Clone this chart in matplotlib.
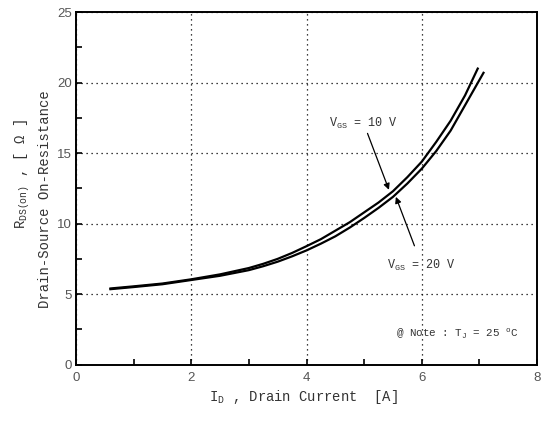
"""
On-resistance vs drain current chart (R_DS(on) for two gate voltages).
Writes out.png.
"""
import matplotlib
matplotlib.use("Agg")
import matplotlib.pyplot as plt
from matplotlib.ticker import MultipleLocator

# --- data ---
id_10v = [0.6, 1.0, 1.5, 2.0, 2.5, 3.0, 3.25, 3.5, 3.75, 4.0, 4.25, 4.5, 4.75,
          5.0, 5.25, 5.5, 5.75, 6.0, 6.25, 6.5, 6.75, 6.97]
rds_10v = [5.4, 5.55, 5.75, 6.05, 6.4, 6.85, 7.15, 7.5, 7.92, 8.4, 8.9, 9.5, 10.1,
           10.8, 11.5, 12.3, 13.3, 14.4, 15.8, 17.3, 19.1, 21.0]
id_20v = [0.6, 1.0, 1.5, 2.0, 2.5, 3.0, 3.25, 3.5, 3.75, 4.0, 4.25, 4.5, 4.75,
          5.0, 5.25, 5.5, 5.75, 6.0, 6.25, 6.5, 6.75, 7.07]
rds_20v = [5.35, 5.5, 5.7, 6.0, 6.3, 6.7, 6.98, 7.3, 7.68, 8.1, 8.58, 9.1, 9.72,
           10.4, 11.12, 11.9, 12.85, 13.9, 15.15, 16.6, 18.4, 20.7]

x_ticks = [0, 2, 4, 6, 8]
y_ticks = [0, 5, 10, 15, 20, 25]

MONO = "Liberation Mono"
SANS = "Liberation Sans"
TXT = "#333333"

plt.rcParams.update({
    "mathtext.fontset": "custom",
    "mathtext.rm": MONO,
    "mathtext.it": MONO,
    "xtick.direction": "in",
    "ytick.direction": "in",
})

fig = plt.figure(figsize=(5.42, 4.21), dpi=100)
ax = fig.add_axes([0.140, 0.134, 0.851, 0.837])

ax.plot(id_10v, rds_10v, color="black", lw=1.6)
ax.plot(id_20v, rds_20v, color="black", lw=1.6)

ax.set_xlim(0, 8)
ax.set_ylim(0, 25)
ax.set_xticks(x_ticks)
ax.set_yticks(y_ticks)
ax.xaxis.set_minor_locator(MultipleLocator(1))
ax.yaxis.set_minor_locator(MultipleLocator(2.5))
ax.tick_params(which="both", length=4, width=1.2, color="black",
               labelsize=9.5, labelcolor="#555555")
ax.tick_params(axis="x", pad=5)
ax.tick_params(axis="y", pad=3)
for lab in ax.get_xticklabels() + ax.get_yticklabels():
    lab.set_fontfamily(SANS)

ax.grid(True, which="major", color="black", ls=(0, (1, 3)), lw=0.9)
for s in ax.spines.values():
    s.set_linewidth(1.4)

# annotations
ax.annotate(r"$\mathregular{V_{GS}}$ = 10 V", xy=(5.43, 12.4), xytext=(4.99, 16.6),
            ha="center", va="bottom", fontsize=8.5, family=MONO, color=TXT,
            arrowprops=dict(arrowstyle="-|>", color="black", lw=0.9,
                            mutation_scale=9, shrinkA=0, shrinkB=0))
ax.annotate(r"$\mathregular{V_{GS}}$ = 20 V", xy=(5.55, 11.9), xytext=(6.0, 7.05),
            ha="center", va="center", fontsize=8.5, family=MONO, color=TXT,
            arrowprops=dict(arrowstyle="-|>", color="black", lw=0.9,
                            mutation_scale=9, shrinkA=7, shrinkB=0))
ax.text(5.55, 2.16, r"@ Note : $\mathregular{T_J}$ = 25 $\mathregular{^o}$C",
        ha="left", va="center", fontsize=7.8, family=MONO, color=TXT)

# axis labels
fig.text(303 / 542, 1 - 397 / 421, r"$\mathregular{I_D}$ , Drain Current  [A]",
         ha="center", va="center", fontsize=10, family=MONO, color=TXT)
fig.text(22 / 542, 1 - 174 / 421, r"$\mathregular{R_{DS(on)}}$ , [ $\mathregular{\Omega}$ ]",
         ha="center", va="center", rotation=90, fontsize=10, family=MONO, color=TXT)
fig.text(45 / 542, 1 - 199 / 421, "Drain-Source On-Resistance",
         ha="center", va="center", rotation=90, fontsize=10, family=MONO, color=TXT)

fig.savefig("out.png", dpi=100)
